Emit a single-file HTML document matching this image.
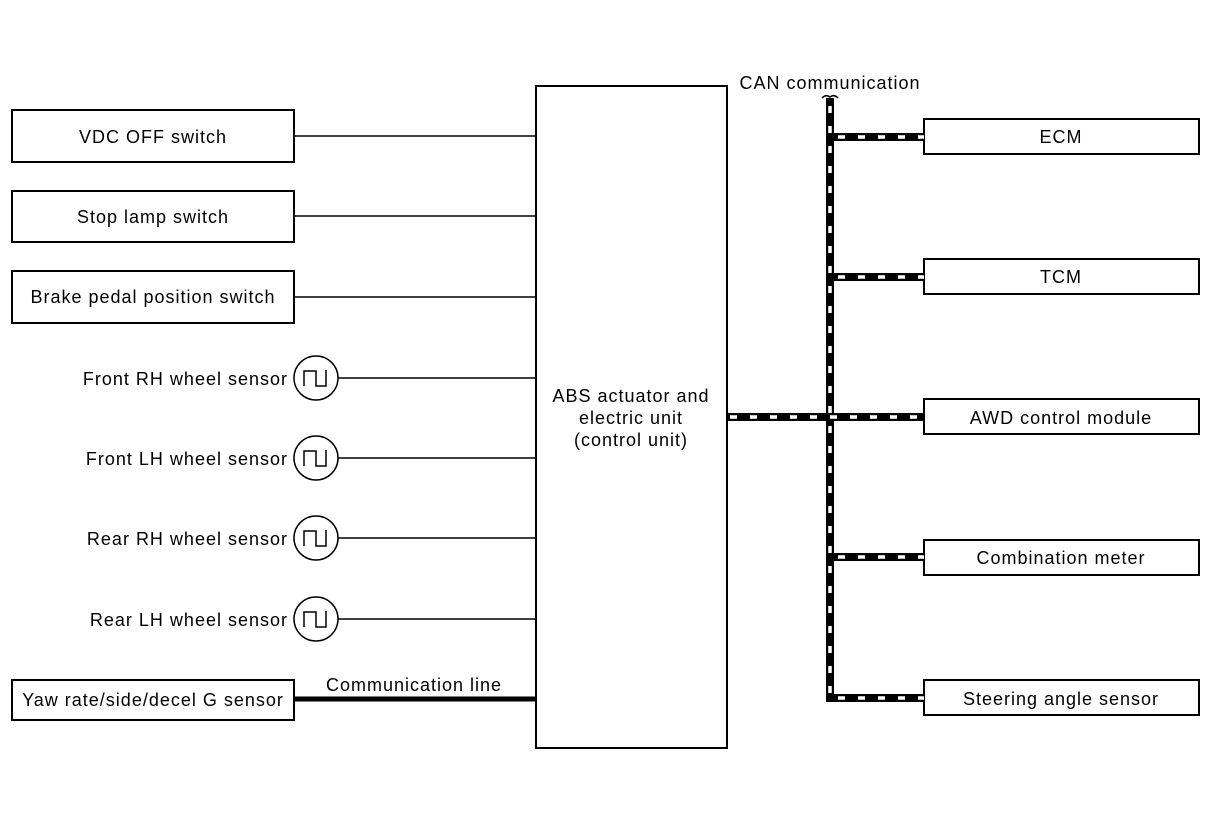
<!DOCTYPE html>
<html><head><meta charset="utf-8"><style>
html,body{margin:0;padding:0;background:#fff;}
svg{display:block;}
text{font-family:"Liberation Sans",Arial,sans-serif;font-size:18px;letter-spacing:1px;fill:#000;}
</style></head><body>
<svg width="1216" height="822" viewBox="0 0 1216 822" xmlns="http://www.w3.org/2000/svg">
<g fill="#fff" stroke="#000" stroke-width="2">
<rect x="12" y="110" width="282" height="52"/>
<rect x="12" y="191" width="282" height="51"/>
<rect x="12" y="271" width="282" height="52"/>
<rect x="12" y="680" width="282" height="40"/>
<rect x="536" y="86" width="191" height="662"/>
<rect x="924" y="119" width="275" height="35"/>
<rect x="924" y="259" width="275" height="35"/>
<rect x="924" y="399" width="275" height="35"/>
<rect x="924" y="540" width="275" height="35"/>
<rect x="924" y="680" width="275" height="35"/>
</g>
<g stroke="#000" stroke-width="1.5">
<line x1="294" y1="136" x2="536" y2="136"/>
<line x1="294" y1="216" x2="536" y2="216"/>
<line x1="294" y1="297" x2="536" y2="297"/>
<line x1="338" y1="378" x2="536" y2="378"/>
<line x1="338" y1="458" x2="536" y2="458"/>
<line x1="338" y1="538" x2="536" y2="538"/>
<line x1="338" y1="619" x2="536" y2="619"/>
</g>
<line x1="294" y1="699" x2="536" y2="699" stroke="#000" stroke-width="5"/>
<g fill="none" stroke="#000" stroke-width="1.5">
<circle cx="316" cy="378" r="22"/><path d="M304 386 V371 H316 V386 H326 V370"/>
<circle cx="316" cy="458" r="22"/><path d="M304 466 V451 H316 V466 H326 V450"/>
<circle cx="316" cy="538" r="22"/><path d="M304 546 V531 H316 V546 H326 V530"/>
<circle cx="316" cy="619" r="22"/><path d="M304 627 V612 H316 V627 H326 V611"/>
</g>
<g fill="none" stroke="#000" stroke-width="8">
<path d="M830 98 V698 H924"/>
<line x1="830" y1="137" x2="924" y2="137"/>
<line x1="830" y1="277" x2="924" y2="277"/>
<line x1="727" y1="417" x2="924" y2="417"/>
<line x1="830" y1="557" x2="924" y2="557"/>
</g>
<g fill="none" stroke="#fff" stroke-width="3.5" stroke-dasharray="7 13">
<path d="M830 106 V698 H924"/>
<line x1="838" y1="137" x2="924" y2="137"/>
<line x1="838" y1="277" x2="924" y2="277"/>
<line x1="730" y1="417" x2="924" y2="417"/>
<line x1="838" y1="557" x2="924" y2="557"/>
</g>
<path d="M822 98 Q826 94 830 97 Q834 94 838 98" fill="none" stroke="#000" stroke-width="1.5"/>
<g text-anchor="middle">
<text x="153" y="143">VDC OFF switch</text>
<text x="153" y="223">Stop lamp switch</text>
<text x="153" y="303">Brake pedal position switch</text>
<text x="153" y="706">Yaw rate/side/decel G sensor</text>
<text x="414" y="691">Communication line</text>
<text x="631" y="402">ABS actuator and</text>
<text x="631" y="424">electric unit</text>
<text x="631" y="446">(control unit)</text>
<text x="830" y="89">CAN communication</text>
<text x="1061" y="143">ECM</text>
<text x="1061" y="283">TCM</text>
<text x="1061" y="424">AWD control module</text>
<text x="1061" y="564">Combination meter</text>
<text x="1061" y="705">Steering angle sensor</text>
</g>
<g text-anchor="end">
<text x="288" y="385">Front RH wheel sensor</text>
<text x="288" y="465">Front LH wheel sensor</text>
<text x="288" y="545">Rear RH wheel sensor</text>
<text x="288" y="626">Rear LH wheel sensor</text>
</g>
</svg>
</body></html>
